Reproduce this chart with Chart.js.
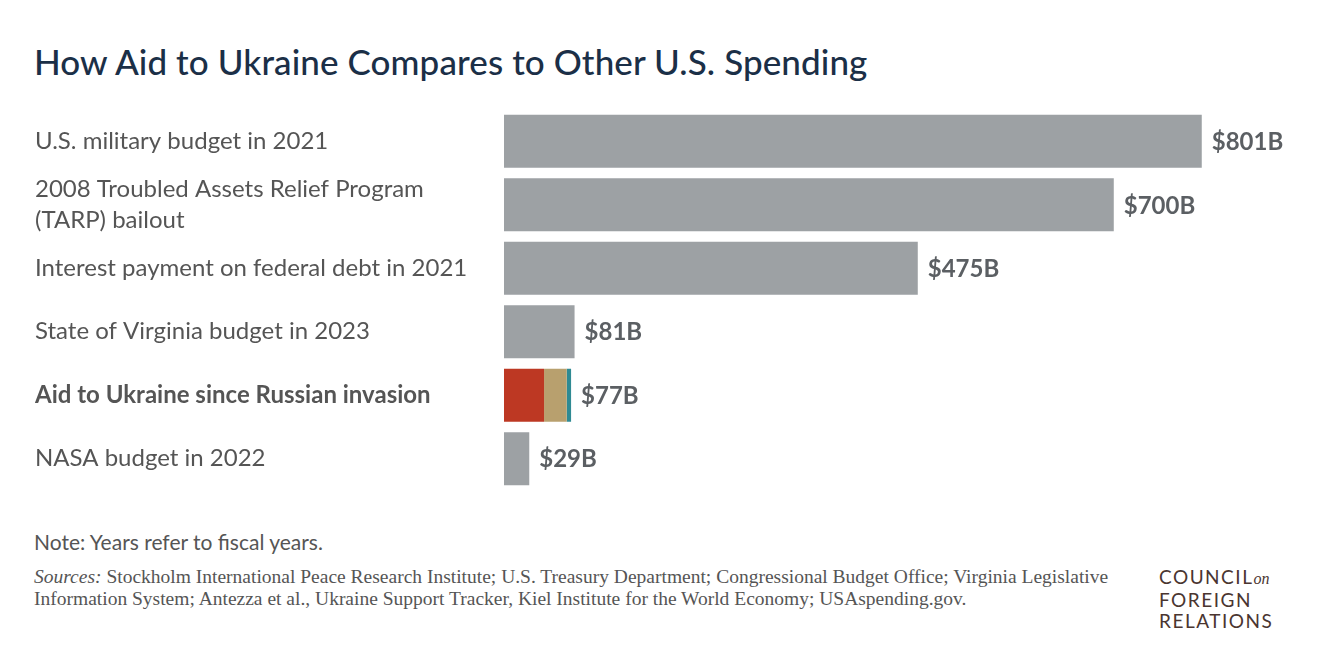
<!DOCTYPE html>
<html>
<head>
<meta charset="utf-8">
<script src="https://cdn.jsdelivr.net/npm/chart.js@4"></script>
<style>
  body { margin: 0; width: 1332px; height: 658px; background: #fff; font-family: Lato, "Open Sans", sans-serif; position: relative; overflow: hidden; }
  h1 { position: absolute; left: 34px; top: 40px; margin: 0; font-size: 35px; font-weight: 500; color: #1b2f47; letter-spacing: 0.1px; }
  #wrap { position: absolute; left: 0; top: 94px; width: 1332px; height: 412px; }
  .note { position: absolute; left: 34px; top: 529px; font-size: 21px; color: #555; }
  .src { position: absolute; left: 34px; top: 566px; width: 1095px; font-family: "Liberation Serif", serif; font-size: 19.5px; line-height: 21.5px; color: #555; }
  .logo { position: absolute; left: 1159px; top: 566px; font-size: 19px; line-height: 21px; color: #4a3530; letter-spacing: 1.5px; }
  .logo i { font-family: "Liberation Serif", serif; letter-spacing: 0; font-size: 16px; }
</style>
</head>
<body>
<h1>How Aid to Ukraine Compares to Other U.S. Spending</h1>
<div id="wrap"><canvas id="chart"></canvas></div>
<div class="note">Note: Years refer to fiscal years.</div>
<div class="src"><i>Sources:</i> Stockholm International Peace Research Institute; U.S. Treasury Department; Congressional Budget Office; Virginia Legislative Information System; Antezza et al., Ukraine Support Tracker, Kiel Institute for the World Economy; USAspending.gov.</div>
<div class="logo">COUNCIL<i>on</i><br>FOREIGN<br>RELATIONS</div>
<script>
// -> Daten
const labels = [
  "U.S. military budget in 2021",
  ["2008 Troubled Assets Relief Program", "(TARP) bailout"],
  "Interest payment on federal debt in 2021",
  "State of Virginia budget in 2023",
  "Aid to Ukraine since Russian invasion",
  "NASA budget in 2022"
];
const totals = [801, 700, 475, 81, 77, 29];
const grey = [801, 700, 475, 81, 0, 29];
const ukRed = [0, 0, 0, 0, 46, 0];
const ukTan = [0, 0, 0, 0, 26, 0];
const ukTeal = [0, 0, 0, 0, 5, 0];

// -> Werte am Balkenende
const valueLabels = {
  id: "valueLabels",
  afterDatasetsDraw(chart) {
    const ctx = chart.ctx;
    const x = chart.scales.x, y = chart.scales.y;
    ctx.save();
    ctx.font = "bold 24px Lato";
    ctx.fillStyle = "#5b5f63";
    ctx.textBaseline = "middle";
    totals.forEach((v, i) => {
      ctx.fillText("$" + v + "B", x.getPixelForValue(v) + 10, y.getPixelForValue(i) + 1);
    });
    ctx.restore();
  }
};

const canvas = document.querySelector("#chart");
new Chart(canvas, {
  type: "bar",
  data: {
    labels: labels,
    datasets: [
      { data: grey, backgroundColor: "#9da1a4" },
      { data: ukRed, backgroundColor: "#bd3823" },
      { data: ukTan, backgroundColor: "#b8a06e" },
      { data: ukTeal, backgroundColor: "#2f8a93" }
    ]
  },
  options: {
    indexAxis: "y",
    responsive: true,
    maintainAspectRatio: false,
    animation: false,
    layout: { padding: { left: 35, right: 44, top: 0, bottom: 0 } },
    datasets: { bar: { barPercentage: 0.835, categoryPercentage: 1, borderWidth: 0 } },
    plugins: { legend: { display: false }, tooltip: { enabled: false } },
    scales: {
      x: { stacked: true, min: 0, max: 900, display: false },
      y: {
        stacked: true,
        grid: { display: false },
        border: { display: false },
        afterFit(scale) { scale.width = 469; },
        ticks: {
          autoSkip: false,
          crossAlign: "far",
          padding: 0,
          color: "#555",
          font: (c) => ({ family: "Lato", size: 24, weight: c.index === 4 ? "bold" : "normal", lineHeight: 1.3 })
        }
      }
    }
  },
  plugins: [valueLabels]
});
</script>
</body>
</html>
